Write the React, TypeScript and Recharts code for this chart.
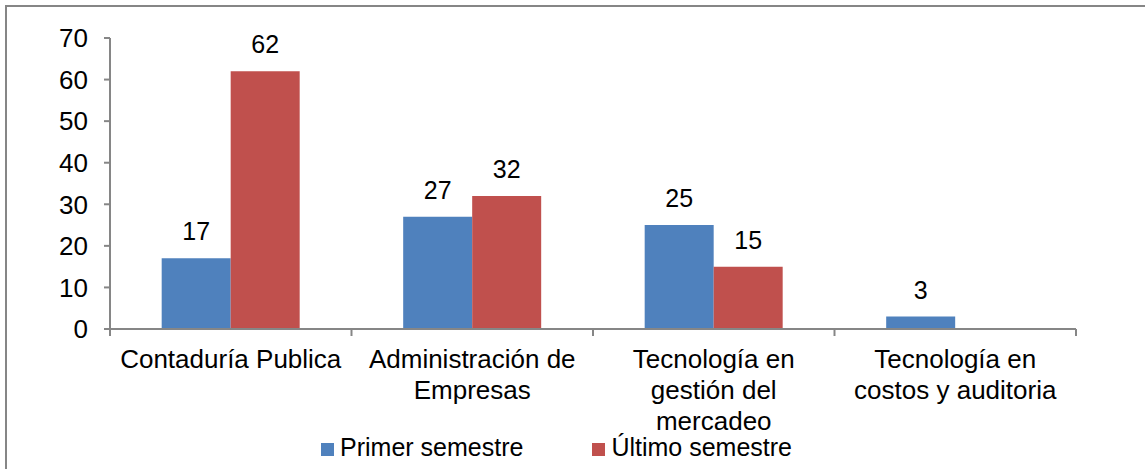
import { BarChart, Bar, XAxis, YAxis, Legend, LabelList } from "recharts";

const categories = [
  "Contaduría Publica",
  "Administración de Empresas",
  "Tecnología en gestión del mercadeo",
  "Tecnología en costos y auditoria",
];
const categoryLines = [
  ["Contaduría Publica"],
  ["Administración de", "Empresas"],
  ["Tecnología en", "gestión del", "mercadeo"],
  ["Tecnología en", "costos y auditoria"],
];
const primerSemestre = [17, 27, 25, 3];
const ultimoSemestre: (number | null)[] = [62, 32, 15, null];
const yTicks = [0, 10, 20, 30, 40, 50, 60, 70];

const seriesNames = ["Primer semestre", "Último semestre"];
const BLUE = "#4F81BD";
const RED = "#C0504D";
const AXIS = "#868686";
const FONT = "'Liberation Sans', Arial, sans-serif";

const data = categories.map((name, i) => ({
  name,
  primer: primerSemestre[i],
  ultimo: ultimoSemestre[i],
}));

// category labels plus Excel-style tick marks between categories
function CategoryTick({ x, y, payload }: any) {
  const idx = categories.indexOf(payload.value);
  const lines = categoryLines[idx] ?? [payload.value];
  const half = payload.offset ?? 0;
  const isLast = idx === categories.length - 1;
  return (
    <g>
      <line x1={x - half} x2={x - half} y1={y} y2={y + 7} stroke={AXIS} strokeWidth={2} />
      {isLast && <line x1={x + half} x2={x + half} y1={y} y2={y + 7} stroke={AXIS} strokeWidth={2} />}
      <text x={x} y={y} textAnchor="middle" fill="#000" fontSize={26} fontFamily={FONT}>
        {lines.map((l, i) => (
          <tspan key={i} x={x} y={y + 39 + i * 31}>
            {l}
          </tspan>
        ))}
      </text>
    </g>
  );
}

function LegendContent() {
  const colors = [BLUE, RED];
  return (
    <div style={{ display: "flex", gap: 69, fontFamily: FONT, fontSize: 25, lineHeight: "30px", color: "#000" }}>
      {seriesNames.map((n, i) => (
        <div key={n} style={{ whiteSpace: "nowrap" }}>
          <span
            style={{ display: "inline-block", width: 13, height: 13, background: colors[i], marginRight: 6, verticalAlign: "baseline" }}
          />
          {n}
        </div>
      ))}
    </div>
  );
}

export default function App() {
  return (
    <div style={{ position: "fixed", left: 0, top: 0, width: 1145, height: 469, overflow: "hidden", background: "#fff" }}>
      <div
        style={{ position: "absolute", left: 5, top: 5, width: 1300, height: 700, border: `2px solid ${AXIS}`, boxSizing: "border-box" }}
      />
      <div style={{ position: "absolute", left: 0, top: 0 }}>
        <BarChart
          width={1145}
          height={469}
          data={data}
          margin={{ top: 38, right: 69, bottom: 0, left: 0 }}
          barCategoryGap="21.4%"
          barGap={0}
        >
          <XAxis
            dataKey="name"
            height={140}
            stroke={AXIS}
            strokeWidth={2}
            tickLine={false}
            tickSize={0}
            tickMargin={0}
            interval={0}
            tick={<CategoryTick />}
          />
          <YAxis
            width={110}
            domain={[0, 70]}
            ticks={yTicks}
            interval={0}
            tickSize={6}
            tickMargin={16}
            stroke={AXIS}
            strokeWidth={2}
            tick={{ fill: "#000", fontSize: 26, fontFamily: FONT }}
          />
          <Legend
            verticalAlign="middle"
            layout="horizontal"
            content={<LegendContent />}
            wrapperStyle={{ top: 432, left: 321, width: "auto" }}
          />
          <Bar dataKey="primer" name={seriesNames[0]} fill={BLUE} isAnimationActive={false}>
            <LabelList dataKey="primer" position="top" offset={18} fill="#000" fontSize={25} fontFamily={FONT} />
          </Bar>
          <Bar dataKey="ultimo" name={seriesNames[1]} fill={RED} isAnimationActive={false}>
            <LabelList dataKey="ultimo" position="top" offset={18} fill="#000" fontSize={25} fontFamily={FONT} />
          </Bar>
        </BarChart>
      </div>
    </div>
  );
}
